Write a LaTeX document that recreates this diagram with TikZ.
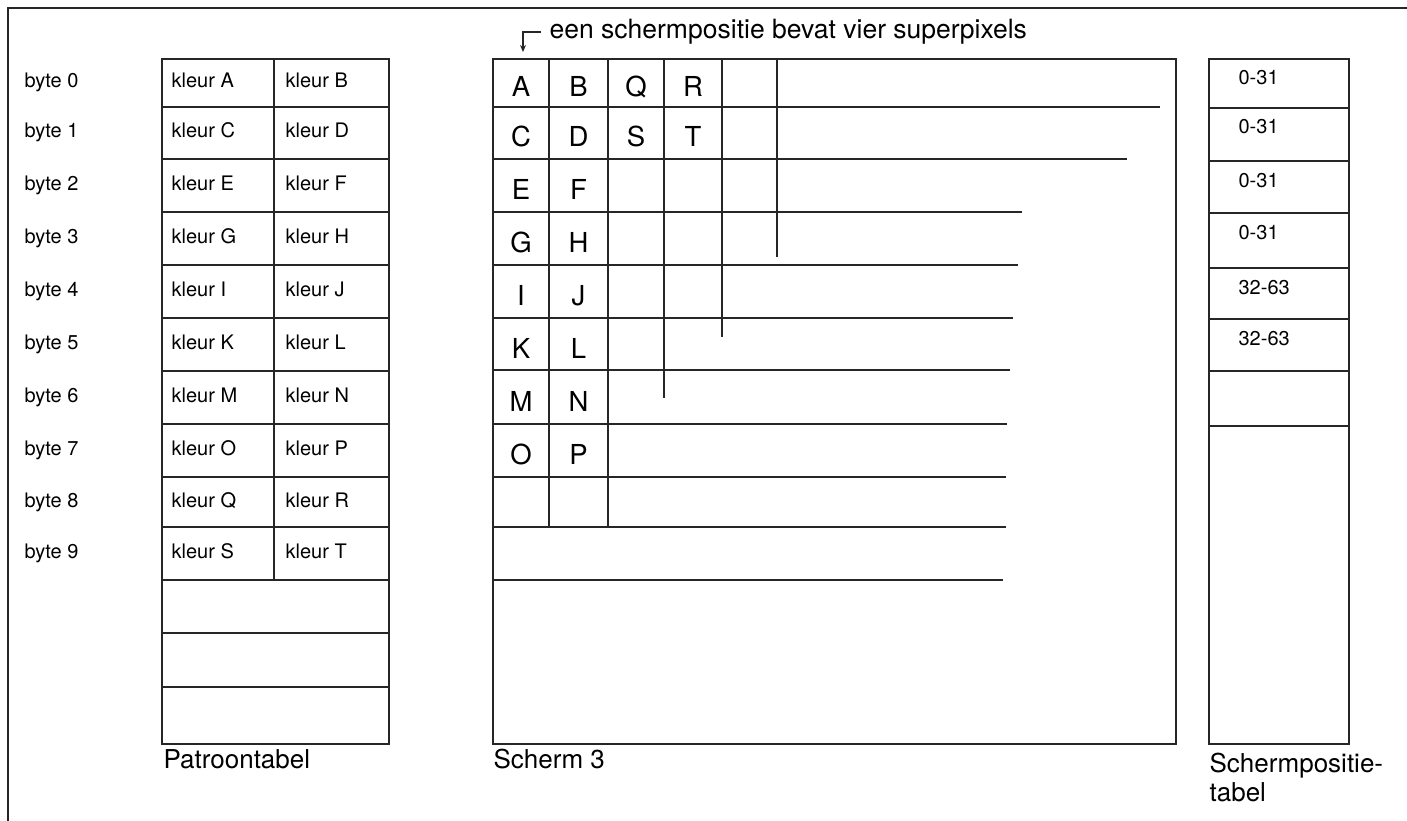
\documentclass[tikz,border=0pt]{standalone}
\usepackage{fontspec}
\setmainfont{TeX Gyre Heros}
\usetikzlibrary{arrows.meta}
\begin{document}
\begin{tikzpicture}[x=1pt,y=-1pt,line width=1.2pt,draw=black!85,
  small/.style={font=\fontsize{20}{24}\selectfont,inner sep=0pt,anchor=base west},
  big/.style={font=\fontsize{27.5}{30}\selectfont,inner sep=0pt,anchor=base},
  lbl/.style={font=\fontsize{26}{30}\selectfont,inner sep=0pt,anchor=base west},
  gridline/.style={line width=1.2pt,draw=black!85}]
\useasboundingbox (0,0) rectangle (1407,821);
% frame
\draw[line width=1.6pt] (8,821) -- (8,8) -- (1407,8);

% ---------- Patroontabel ----------
\draw[gridline] (162,59) rectangle (389,744);
\foreach \y in {107,159,212,265,318,371,424,477,527,580,633,687}
  \draw[gridline] (162,\y) -- (389,\y);
\draw[gridline] (274,59) -- (274,580);
\foreach \i/\c/\a/\b in {0/83/A/B,1/133/C/D,2/185.5/E/F,3/238.5/G/H,4/291.5/I/J,
                          5/344.5/K/L,6/397.5/M/N,7/450.5/O/P,8/502/Q/R,9/553.5/S/T}{
  \node[small] (byte\i) at (24,\c+5) {byte \i};
  \node[small] (ka\i) at (171,\c+5) {kleur \a};
  \node[small] (kb\i) at (285,\c+5) {kleur \b};
}
\node[lbl] (patr) at (163,768) {Patroontabel};

% ---------- Scherm 3 ----------
\draw[gridline] (493,59) rectangle (1176,744);
\foreach \y/\e in {107/1160,159/1127,212/1022,265/1018,318/1013,370/1010,
                   424/1007,477/1006,527/1006,580/1003}
  \draw[gridline] (493,\y) -- (\e,\y);
\foreach \x/\e in {549/527,608/527,664/398,722/337,777/257}
  \draw[gridline] (\x,59) -- (\x,\e);
% letters
\foreach \r/\c/\a/\b in {0/83/A/B,1/133/C/D,2/185.5/E/F,3/238.5/G/H,4/291.5/I/J,
                          5/344.5/K/L,6/397.5/M/N,7/450.5/O/P}{
  \node[big] (la\r) at (521,\c+14) {\a};
  \node[big] (lb\r) at (578.5,\c+14) {\b};
}
\node[big] (lq) at (636,83+14) {Q};
\node[big] (lr) at (693,83+14) {R};
\node[big] (ls) at (636,133+14) {S};
\node[big] (lt) at (693,133+14) {T};
\node[lbl] (scherm) at (493,768) {Scherm 3};

% title and arrow
\node[font=\fontsize{26.5}{30}\selectfont,inner sep=0pt,anchor=west] (title) at (549,32)
  {een schermpositie bevat vier superpixels};
\coordinate (arrS) at (541,32);
\coordinate (arrE) at (523,52);
\draw[line width=1.2pt,-{Stealth[length=7pt,width=6pt]}] (arrS) -| (arrE);

% ---------- Schermpositietabel ----------
\draw[gridline] (1209,59) rectangle (1349,744);
\foreach \y in {108,161,213,268,319,371,426}
  \draw[gridline] (1209,\y) -- (1349,\y);
\foreach \t/\y/\n in {59/0-31/p0,108/0-31/p1,161/0-31/p2,213/0-31/p3,268/32-63/p4,319/32-63/p5}
  \node[small] (\n) at (1238,\t+26) {\y};
\node[lbl] (spt1) at (1209,772) {Schermpositie-};
\node[lbl] (spt2) at (1209,801) {tabel};
\end{tikzpicture}
\end{document}
